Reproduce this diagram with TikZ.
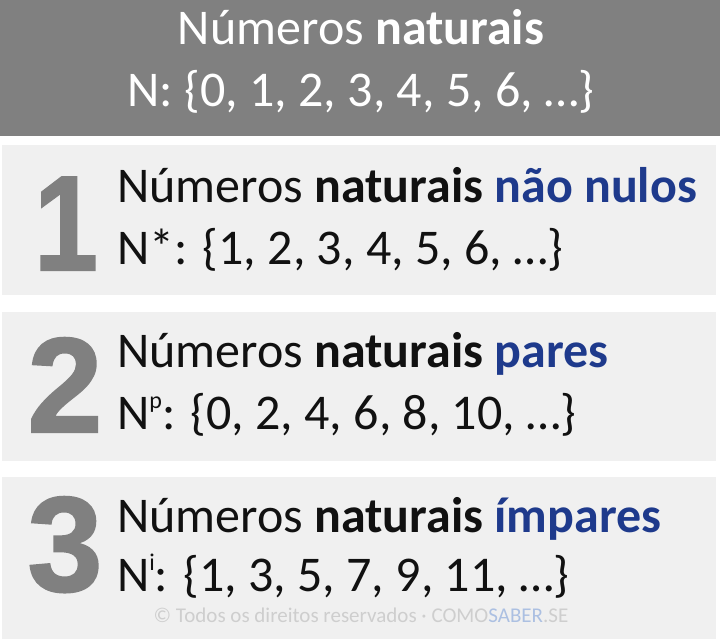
\documentclass[tikz,border=0pt]{standalone}
\usepackage{fontspec}
\setmainfont{Carlito}
\newfontfamily\numfont[FakeBold=1.5]{Liberation Sans Bold}
\usepackage{tikz}

\definecolor{headgray}{RGB}{128,128,128}
\definecolor{panelgray}{RGB}{240,240,240}
\definecolor{numgray}{RGB}{128,128,128}
\definecolor{setblue}{RGB}{30,58,140}
\definecolor{txtblack}{RGB}{17,17,17}
\definecolor{markgray}{RGB}{206,206,206}
\definecolor{markblue}{RGB}{172,192,226}

\newcommand\linefont{\fontsize{50}{60}\selectfont}
\newcommand\digitfont{\numfont\fontsize{135}{135}\selectfont}
\newcommand\supidx[1]{\raisebox{0.42em}{\fontsize{24}{24}\selectfont #1}}

\tikzset{
  txt/.style={anchor=base west,inner sep=0pt,text=txtblack,font=\linefont},
  headtxt/.style={anchor=base,inner sep=0pt,text=white,font=\linefont},
  digit/.style={anchor=base,inner sep=0pt,text=numgray,font=\digitfont},
  wmark/.style={anchor=base,inner sep=0pt,text=markgray,font=\fontsize{21}{21}\selectfont}
}

\begin{document}
\begin{tikzpicture}[x=1pt,y=-1pt]
\useasboundingbox (0,0) rectangle (720,639);

\path[fill=white] (0,0) rectangle (720,639);
\path[fill=headgray]% header
(0,0) rectangle (720,136);
\path[fill=panelgray]% 1
(2,145) rectangle (716,295);
\path[fill=panelgray]% 2
(2,312) rectangle (716,461);
\path[fill=panelgray]% 3
(2,477) rectangle (716,639);

\node[headtxt] (head1) at (361,45)  {Números \textbf{naturais}};
\node[headtxt] (head2) at (361,107) {N: \{0, 1, 2, 3, 4, 5, 6, …\}};

\node[digit] (d1) at (66,270) {\scalebox{0.85}[1]{1}};
\node[digit] (d2) at (65,432) {2};
\node[digit] (d3) at (65,591) {3};

\node[txt] (t1) at (117,203) {Números \textbf{naturais} \textcolor{setblue}{\textbf{não nulos}}};
\node[txt] (s1) at (117,264) {N*: \{1, 2, 3, 4, 5, 6, …\}};
\node[txt] (t2) at (117,367) {Números \textbf{naturais} \textcolor{setblue}{\textbf{pares}}};
\node[txt] (s2) at (117,429) {N\supidx{p}: \{0, 2, 4, 6, 8, 10, …\}};
\node[txt] (t3) at (117,532) {Números \textbf{naturais} \textcolor{setblue}{\textbf{ímpares}}};
\node[txt] (s3) at (117,591) {N\supidx{i}: \{1, 3, 5, 7, 9, 11, …\}};

\node[wmark] (wm) at (361,622) {© Todos os direitos reservados · COMO\textcolor{markblue}{SABER}.SE};

\end{tikzpicture}
\end{document}
